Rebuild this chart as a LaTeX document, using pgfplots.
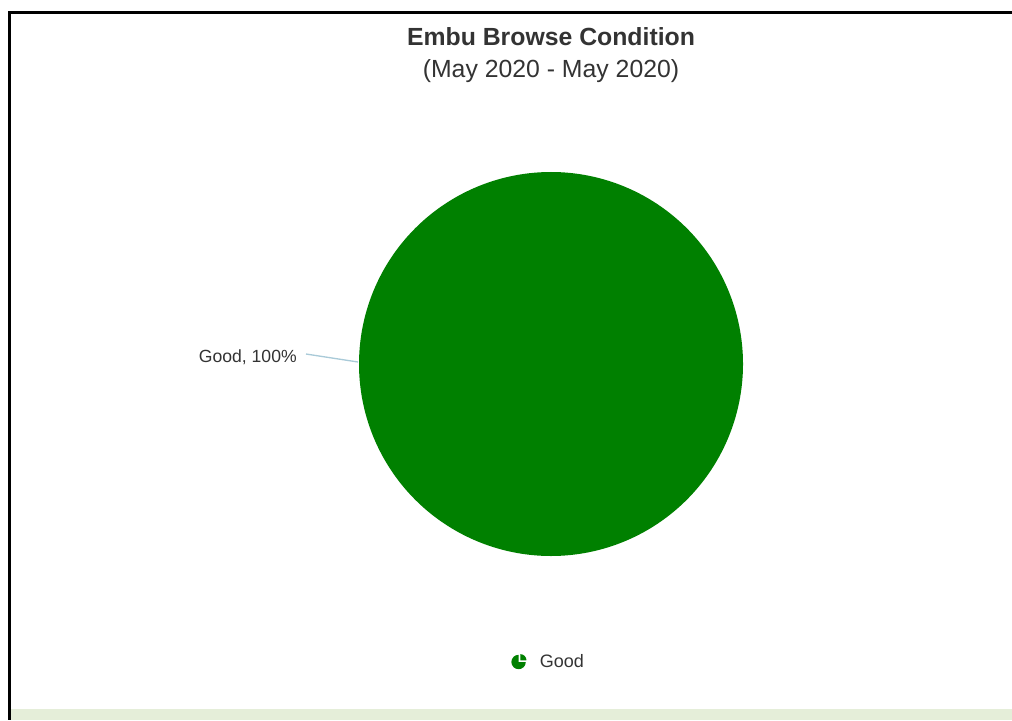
\documentclass[border=0pt]{standalone}
\usepackage{pgfplots}
\usepackage{pgfplotstable}
\pgfplotsset{compat=1.18}
\usepackage{fontspec}
\setmainfont{Liberation Sans}
\definecolor{pieGreen}{HTML}{008000}
\definecolor{txt}{HTML}{333333}
\definecolor{band}{HTML}{E5EED9}
\definecolor{conn}{HTML}{A9CAD8}
\pgfplotstableread{
label value
Good 100
}\pietable
\begin{document}
\begin{tikzpicture}
\pgfplotstablegetelem{0}{value}\of\pietable
\pgfmathsetmacro\endang{90-3.6*\pgfplotsretval}
\begin{axis}[
  scale only axis, width=759pt, height=540pt,
  xmin=0, xmax=1012, ymin=0, ymax=720, y dir=reverse,
  hide axis, clip=false,
  legend style={at={(axis cs:549,662)}, anchor=center, draw=none, fill=none,
    font=\fontsize{13.5pt}{16pt}\selectfont, text=txt, inner sep=0pt,
    /tikz/every even column/.append style={column sep=0pt}},
  legend image code/.code={
    \fill[pieGreen] (0pt,0pt) -- (0pt,5.4pt) arc[start angle=90,end angle=360,radius=5.4pt] -- cycle;
    \fill[pieGreen] (1.3pt,1.3pt) -- ++(4.6pt,0pt) arc[start angle=0,end angle=90,radius=4.6pt] -- cycle;
    \path (14pt,0pt);
  },
]
\path (axis cs:0,0) rectangle (axis cs:1012,720);
% background elements
\fill[band] (axis cs:11,709) rectangle (axis cs:1012,720);
\fill[black] (axis cs:8,11) rectangle (axis cs:1012,14);
\fill[black] (axis cs:8,11) rectangle (axis cs:11,720);
% pie slice
\addplot[fill=pieGreen, draw=none, samples=361, domain=90:\endang, variable=\t]
  ({551+192*cos(t)}, {364-192*sin(t)});
\addlegendentry{Good}
% connector and data label
\draw[conn, line width=1pt] (axis cs:306,354) -- (axis cs:358,362);
\node[anchor=east, text=txt, font=\fontsize{13.2pt}{15pt}\selectfont, inner sep=0pt] at (axis cs:297,357) {Good, 100\%};
% titles
\node[text=txt, font=\fontsize{18.6pt}{22pt}\selectfont\bfseries] at (axis cs:551,37) {Embu Browse Condition};
\node[text=txt, font=\fontsize{18.6pt}{22pt}\selectfont] at (axis cs:551,71) {(May 2020 - May 2020)};
\end{axis}
\end{tikzpicture}
\end{document}
